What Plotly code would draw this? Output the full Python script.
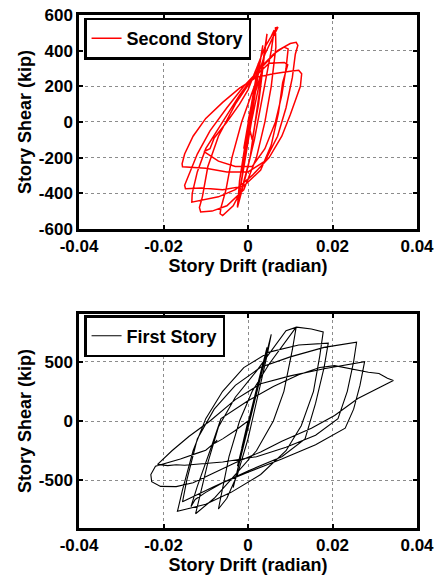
import plotly.graph_objects as go

# ---- Second story (top panel) ----
second_drift = [
    0, 0.0015, -0.001, 0.0025, -0.0015, 0.0035, -0.0025, -0.001, 0.0008, 0.003, 0.0045,
    0.0035, 0.002, 0.0005, -0.0015, -0.0035, -0.006, -0.0066, -0.0064,
    -0.0052, -0.0038, -0.0015, 0.0015, 0.004, 0.006, 0.0071, 0.0065,
    0.0066, 0.0055, 0.004, 0.002, -0.001, -0.005, -0.0085, -0.0112, -0.0115,
    -0.0108, -0.0095, -0.007, -0.003, 0.001, 0.005, 0.0086, 0.0094,
    0.0082, 0.0072, 0.0055, 0.003, -0.001, -0.006, -0.011, -0.0148, -0.015,
    -0.014, -0.012, -0.009, -0.005, -0.001, 0.003, 0.007, 0.010, 0.0114, 0.0118,
    0.0112, 0.0105, 0.009, 0.007, 0.004, 0, -0.005, -0.010, -0.0155, -0.0156,
    -0.015, -0.013, -0.010, -0.006, -0.002, 0.002, 0.006, 0.010, 0.012, 0.0127, 0.0124, 0.0115,
    0.010, 0.008, 0.005, 0.001, -0.003, -0.007, -0.011, -0.0133, -0.0132, -0.012, -0.010, -0.006,
    -0.002, 0.002, 0.006, 0.0085, 0.0095, 0.009, 0.008, 0.0065, 0.004, 0.001, -0.003, -0.007, -0.0104,
    -0.009, -0.008, -0.005, -0.002, 0, 0.002, 0.004, 0.0055, 0.0062, 0.0055, 0.0035,
    0.0015, -0.0005, -0.0025, -0.002, -0.0005, 0.0015, 0.0035, 0.0025, 0.001, 0,
]
second_shear = [
    0, 180, -150, 330, -280, 430, -470, -250, 0, 250, 494,
    300, 50, -200, -380, -470, -525, -515, -480,
    -380, -200, 0, 200, 380, 480, 532, 528,
    420, 200, 0, -200, -380, -470, -500, -505, -480,
    -420, -250, -80, 100, 240, 330, 334, 320,
    220, 50, -130, -270, -360, -380, -370, -374, -355,
    -300, -180, -50, 80, 200, 300, 400, 440, 447, 430,
    380, 250, 80, -80, -220, -280, -280, -260, -251, -235,
    -180, -80, 20, 110, 190, 250, 270, 285, 290, 270, 200, 140,
    40, -80, -200, -300, -380, -420, -440, -450, -400, -280, -150, 0,
    150, 280, 380, 420, 410, 300, 150, 0, -150, -250, -250, -220, -166,
    -150, -90, 0, 100, 180, 300, 420, 480, 515, 400, 150,
    -100, -300, -480, -330, -100, 150, 300, 100, -100, 0,
]

# ---- First story (bottom panel) ----
first_drift = [
    0, 0.002, -0.0015, 0.0035, -0.0025, 0.0045, -0.0035, 0.0055,
    0.0045, 0.002, 0, -0.0025, -0.005, -0.007,
    -0.0062, -0.0045, -0.002, 0.001, 0.005, 0.009, 0.0114,
    0.0105, 0.0085, 0.006, 0.002, -0.003, -0.008, -0.0124,
    -0.0115, -0.0095, -0.007, -0.003, 0.002, 0.006, 0.009, 0.0115, 0.015, 0.0178,
    0.017, 0.0155, 0.0126, 0.009, 0.003, -0.004, -0.010, -0.0167,
    -0.0155, -0.013, -0.010, -0.006, -0.001, 0.005, 0.012, 0.019,
    0.018, 0.016, 0.0135, 0.008, 0, -0.008, -0.0155,
    -0.0145, -0.012, -0.008, -0.003, 0.003, 0.010, 0.018, 0.0257,
    0.025, 0.0235, 0.0213, 0.016, 0.009, 0.002, -0.006, -0.012, -0.015, -0.017, -0.019, -0.0214,
    -0.018, -0.014, -0.009, -0.003, 0.003, 0.010, 0.018, 0.0276,
    0.0265, 0.025, 0.023, 0.016, 0.008, 0, -0.006, -0.010, -0.0125, -0.0135,
    -0.012, -0.009, -0.0064, 0, 0.006, 0.012, 0.017, 0.0205, 0.024, 0.0285, 0.031, 0.032, 0.033, 0.0344,
    0.031, 0.026, 0.0205, 0.015, 0.008, 0.003, -0.003, -0.009, -0.013, -0.017, -0.0207, -0.0228,
    -0.023, -0.0219, -0.020, -0.016, -0.012, -0.010, -0.0085, -0.0073, -0.008, -0.006, -0.003, 0,
]
first_shear = [
    0, 280, -230, 480, -380, 620, -560, 730,
    550, 150, -150, -450, -650, -740,
    -600, -300, 0, 250, 480, 680, 790,
    600, 250, 0, -250, -450, -650, -780,
    -650, -350, -50, 200, 420, 620, 760, 790, 775, 750,
    550, 250, -40, -250, -450, -600, -700, -760,
    -580, -250, 20, 250, 450, 580, 640, 655,
    450, 150, -150, -300, -420, -550, -680,
    -500, -150, 100, 300, 453, 540, 620, 663,
    500, 250, 20, -120, -220, -300, -345, -360, -372, -368, -375, -365,
    -250, -130, 0, 180, 313, 380, 440, 500,
    300, 100, -60, -200, -320, -430, -520, -600, -660, -720,
    -550, -250, 20, 170, 290, 390, 450, 466, 440, 411, 400, 380, 360, 341,
    280, 190, 47, -60, -170, -260, -350, -450, -520, -552, -550, -510,
    -450, -380, -360, -320, -270, -245, -200, -160, -190, -150, -80, 0,
]

x_ticks = [-0.04, -0.02, 0, 0.02, 0.04]
x_tick_labels = ["-0.04", "-0.02", "0", "0.02", "0.04"]
top_y_ticks = [-600, -400, -200, 0, 200, 400, 600]
top_y_labels = ["-600", "-400", "-200", "0", "200", "400", "600"]
bottom_y_ticks = [-500, 0, 500]
bottom_y_labels = ["-500", "0", "500"]

FONT = "Liberation Sans"
tickfont = dict(family=FONT, size=17, color="black", weight="bold")
titlefont = dict(family=FONT, size=18, color="black", weight="bold")

fig = go.Figure()
fig.add_trace(go.Scatter(x=second_drift, y=second_shear, mode="lines",
                         line=dict(color="#ff0000", width=1.5),
                         name="Second Story", xaxis="x", yaxis="y", legend="legend"))
fig.add_trace(go.Scatter(x=first_drift, y=first_shear, mode="lines",
                         line=dict(color="black", width=1.1),
                         name="First Story", xaxis="x2", yaxis="y2", legend="legend2"))

grid = dict(showgrid=True, gridcolor="#8c8c8c", griddash="dot", gridwidth=1,
            zeroline=False, showline=True, linecolor="black", linewidth=2.5,
            mirror="ticks", ticks="inside", ticklen=4, tickwidth=1.5, tickcolor="black",
            tickfont=tickfont, automargin=False)

def xax(anchor):
    return dict(anchor=anchor, domain=[0, 1], range=[-0.04, 0.04],
                tickvals=x_ticks, ticktext=x_tick_labels, ticklabelstandoff=0,
                title=dict(text="Story Drift (radian)", font=titlefont, standoff=4), **grid)

def yax(anchor, domain, rng, ticks, labels):
    return dict(anchor=anchor, domain=domain, range=rng, tickvals=ticks, ticktext=labels,
                title=dict(text="Story Shear (kip)", font=titlefont, standoff=3), **grid)

legend_common = dict(bgcolor="white", bordercolor="black", borderwidth=2.5,
                     font=dict(family=FONT, size=18, color="black", weight="bold"),
                     xanchor="left", yanchor="top", tracegroupgap=0, itemwidth=30)

fig.update_layout(
    template="none",
    width=438, height=576,
    margin=dict(l=79, r=21, t=15, b=48),
    paper_bgcolor="white", plot_bgcolor="white",
    xaxis=xax("y"),
    yaxis=yax("x", [0.583, 1], [-600, 600], top_y_ticks, top_y_labels),
    xaxis2=xax("y2"),
    yaxis2=yax("x2", [0, 0.417], [-900, 900], bottom_y_ticks, bottom_y_labels),
    legend=dict(x=0.015, y=0.995, **legend_common),
    legend2=dict(x=0.015, y=0.415, **legend_common),
    showlegend=True,
)

fig.write_html("out.html")
